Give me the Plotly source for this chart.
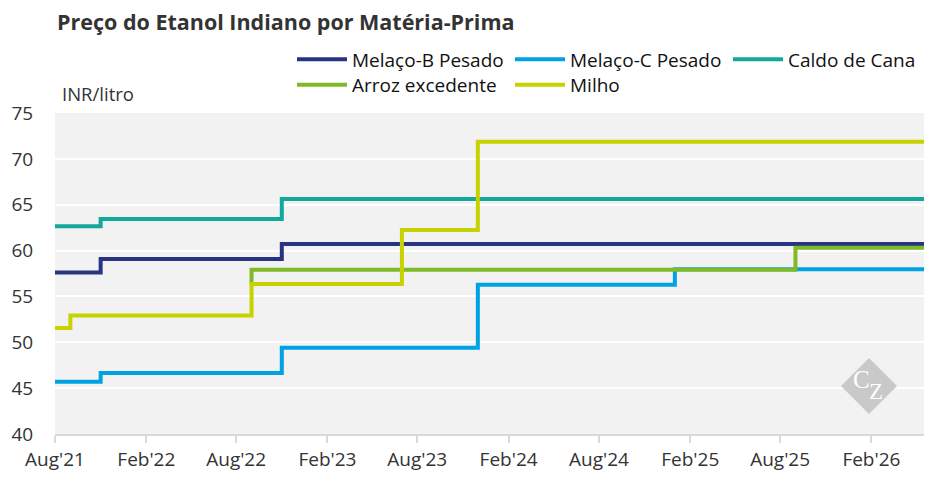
import plotly.graph_objects as go

END = "2026-05-18"

# Melaço-B Pesado
b_dates = ["2021-08-01", "2021-11-01", "2022-11-01", END]
b_vals = [57.61, 59.08, 60.73, 60.73]
# Melaço-C Pesado
c_dates = ["2021-08-01", "2021-11-01", "2022-11-01", "2023-12-01", "2025-01-01", END]
c_vals = [45.69, 46.66, 49.41, 56.28, 57.97, 57.97]
# Caldo de Cana
cana_dates = ["2021-08-01", "2021-11-01", "2022-11-01", END]
cana_vals = [62.65, 63.45, 65.61, 65.61]
# Arroz excedente
arroz_dates = ["2022-09-01", "2022-09-01", "2025-09-01", END]
arroz_vals = [56.35, 57.90, 60.30, 60.30]
# Milho
milho_dates = ["2021-08-01", "2021-09-01", "2022-09-01", "2023-07-01", "2023-12-01", END]
milho_vals = [51.55, 52.92, 56.35, 62.25, 71.86, 71.86]

series = [
    ("Melaço-B Pesado", b_dates, b_vals, "#28347f", "legend"),
    ("Melaço-C Pesado", c_dates, c_vals, "#00a2e3", "legend"),
    ("Caldo de Cana", cana_dates, cana_vals, "#13a89c", "legend"),
    ("Arroz excedente", arroz_dates, arroz_vals, "#7fba28", "legend2"),
    ("Milho", milho_dates, milho_vals, "#c6d300", "legend2"),
]

y_ticks = [40, 45, 50, 55, 60, 65, 70, 75]

FONT = "Open Sans"
TXT = "#333333"

# page body has an 8px margin: figure coordinates = reference - 8
W, H = 931, 481
L, R, T, B = 47, 15, 105, 55
PW, PH = W - L - R, H - T - B  # 869 x 321

def px(xr):
    return (xr - 8 - L) / PW

def py(yr):
    return (T + PH - (yr - 8)) / PH

fig = go.Figure()
for name, d, v, col, lg in series:
    fig.add_trace(go.Scatter(
        x=d, y=v, name=name, mode="lines",
        line=dict(color=col, width=4, shape="hv"),
        hoverinfo="skip", legend=lg,
    ))

leg_common = dict(
    orientation="h", xanchor="left", yanchor="top",
    font=dict(family=FONT, size=19, color="#111111"),
    itemwidth=50,
    entrywidth=153, entrywidthmode="pixels",
    bgcolor="rgba(0,0,0,0)", borderwidth=0,
)

fig.update_layout(
    width=W, height=H,
    margin=dict(l=L, r=R, t=T, b=B, autoexpand=False),
    paper_bgcolor="white",
    plot_bgcolor="#f2f2f2",
    font=dict(family=FONT, color=TXT, size=18),
    title=dict(
        text="<b>Preço do Etanol Indiano por Matéria-Prima</b>",
        x=(57 - 8) / W, xref="container", xanchor="left",
        y=1 - (22 - 8) / H, yref="container", yanchor="middle",
        font=dict(family=FONT, size=21.5, color=TXT),
    ),
    legend=dict(x=px(292), y=py(59.5 - 19), **leg_common),
    legend2=dict(x=px(292), y=py(85 - 19), **leg_common),
    xaxis=dict(
        type="date",
        range=["2021-08-01", END],
        tick0="2021-08-01", dtick="M6",
        tickformat="%b'%y",
        showgrid=False, zeroline=False,
        showline=True, linecolor="#d9d9d9", linewidth=2,
        ticks="outside", ticklen=7, tickwidth=2, tickcolor="#d9d9d9",
        tickfont=dict(family=FONT, size=19, color=TXT),
    ),
    yaxis=dict(
        range=[40, 75],
        tickvals=y_ticks,
        showgrid=True, gridcolor="white", gridwidth=2,
        zeroline=False, showline=False,
        ticks="outside", ticklen=17, tickcolor="rgba(0,0,0,0)",
        tickfont=dict(family=FONT, size=19, color=TXT),
    ),
    showlegend=True,
)

fig.add_annotation(
    text="INR/litro", xref="paper", yref="paper",
    x=px(60), y=py(93),
    xanchor="left", yanchor="middle", showarrow=False,
    font=dict(family=FONT, size=18.5, color=TXT),
)

# logo
fig.add_shape(
    type="path", xref="paper", yref="paper",
    xsizemode="pixel", ysizemode="pixel",
    xanchor=px(869), yanchor=py(386),
    path="M0,28 L28,0 L0,-28 L-28,0 Z",
    fillcolor="#c9c9c9", line=dict(width=0), layer="above",
)
fig.add_annotation(
    text="C", xref="paper", yref="paper",
    x=px(861.5), y=py(379.5),
    xanchor="center", yanchor="middle", showarrow=False,
    font=dict(family="Liberation Serif", size=25, color="white"),
)
fig.add_annotation(
    text="Z", xref="paper", yref="paper",
    x=px(875.5), y=py(391.5),
    xanchor="center", yanchor="middle", showarrow=False,
    font=dict(family="Liberation Serif", size=23, color="white"),
)

fig.write_html("out.html")
